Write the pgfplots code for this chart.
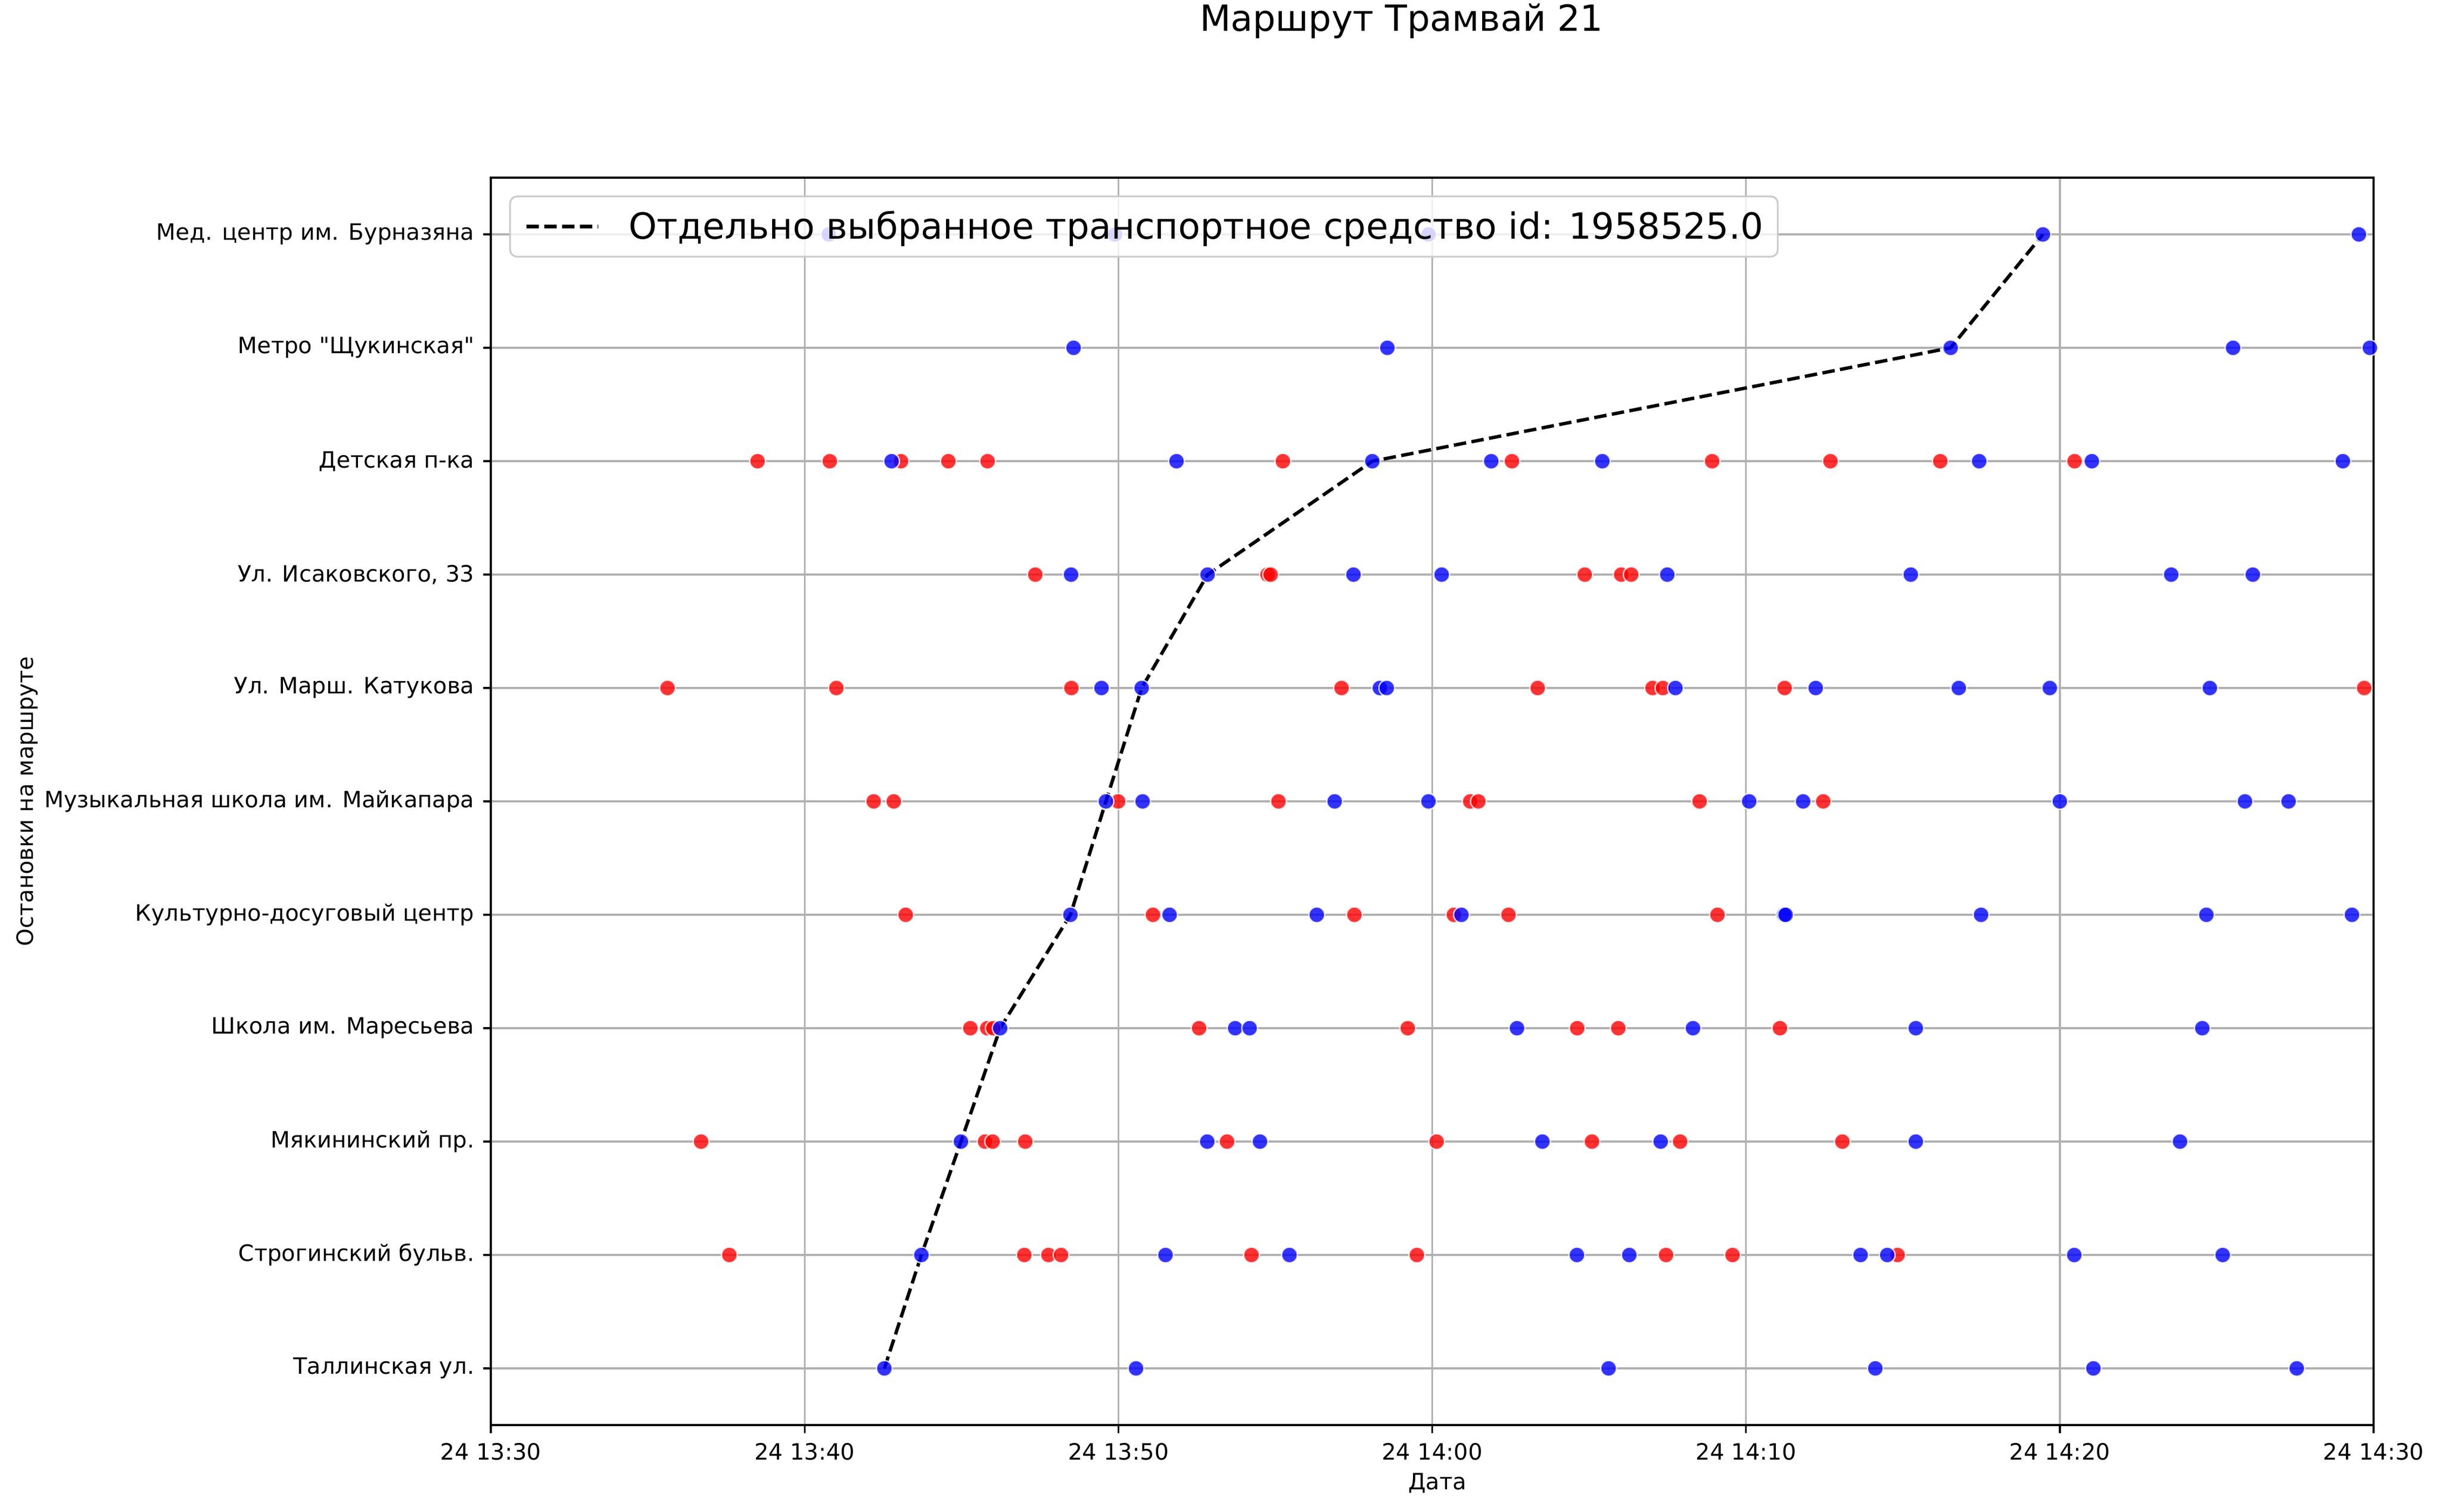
\documentclass[border=0pt]{standalone}
\usepackage{fontspec}
\setmainfont{DejaVu Sans}[Ligatures=TeXOff]
\usepackage{pgfplots}
\pgfplotsset{compat=1.18}
\begin{document}
\begin{tikzpicture}
\path[use as bounding box] (0,0) rectangle (1084.6pt,671.8pt);
\begin{axis}[
  at={(218.2pt,38.4pt)}, anchor=south west,
  scale only axis, width=836.9pt, height=554.4pt,
  xmin=0, xmax=60, ymin=-0.5, ymax=10.5,
  xtick={0,10,...,60},
  xticklabels={24 13:30,24 13:40,24 13:50,24 14:00,24 14:10,24 14:20,24 14:30},
  ytick={0,...,10},
  yticklabels={Таллинская ул.,Строгинский бульв.,Мякининский пр.,Школа им. Маресьева,Культурно-досуговый центр,Музыкальная школа им. Майкапара,Ул. Марш. Катукова,{Ул. Исаковского, 33},Детская п-ка,Метро "Щукинская",Мед. центр им. Бурназяна},
  xtick pos=lower, ytick pos=left,
  tick align=outside, major tick length=3.5pt,
  tick style={black, line width=0.8pt},
  axis line style={black, line width=0.8pt},
  grid=major, major grid style={draw=black!31, line width=0.8pt},
  ticklabel style={font=\fontsize{10}{12}\selectfont, inner sep=0pt},
  xticklabel shift=4.4pt, yticklabel shift=3.7pt,
  title={Маршрут Трамвай 21},
  title style={at={(axis description cs:0.4837,1.1069)}, anchor=base, font=\fontsize{16}{19}\selectfont, inner sep=0pt},
  xlabel={Дата},
  xlabel style={at={(axis description cs:0.5027,-0.0515)}, anchor=base, font=\fontsize{10}{12}\selectfont, inner sep=0pt},
  ylabel={Остановки на маршруте},
  ylabel style={at={(axis description cs:-0.2464,0.5)}, anchor=center, font=\fontsize{10}{12}\selectfont, inner sep=0pt},
  legend image code/.code={\draw[#1] (0pt,0pt) -- (32pt,0pt);},
  legend style={at={(0.00975,0.9857)}, anchor=north west, draw=black!20, line width=0.8pt,
    fill=white, fill opacity=0.8, text opacity=1, rounded corners=3pt,
    font=\fontsize{16}{19}\selectfont, inner xsep=6.4pt, inner ysep=6.4pt,
    nodes={inner sep=0pt}, column sep=12.8pt},
]
% red series
\addplot[only marks, forget plot, mark=*, mark size=3.5pt,
  mark options={fill=red, draw=white, line width=0.6pt, opacity=0.8}] coordinates {
(7.60,1) (17.00,1) (17.77,1) (18.17,1) (24.24,1) (29.51,1) (37.45,1) (39.57,1) (44.83,1)
(6.70,2) (15.75,2) (15.99,2) (17.03,2) (23.46,2) (30.14,2) (35.09,2) (37.90,2) (43.07,2)
(15.28,3) (15.82,3) (16.01,3) (22.57,3) (29.22,3) (34.62,3) (35.93,3) (41.08,3)
(13.22,4) (21.10,4) (27.52,4) (30.69,4) (32.43,4) (39.09,4)
(12.20,5) (12.84,5) (19.99,5) (25.10,5) (31.21,5) (31.47,5) (38.52,5) (42.46,5)
(5.63,6) (11.01,6) (18.50,6) (27.11,6) (33.36,6) (37.02,6) (37.35,6) (41.23,6) (59.70,6)
(17.35,7) (24.75,7) (24.85,7) (34.86,7) (36.02,7) (36.34,7)
(8.50,8) (10.80,8) (13.07,8) (14.58,8) (15.83,8) (25.24,8) (32.54,8) (38.92,8) (42.69,8) (46.19,8) (50.47,8)
};
% blue series
\addplot[only marks, forget plot, mark=*, mark size=3.5pt,
  mark options={fill=blue, draw=white, line width=0.6pt, opacity=0.8}] coordinates {
(12.54,0) (20.56,0) (35.62,0) (44.12,0) (51.07,0) (57.55,0)
(13.72,1) (21.50,1) (25.45,1) (34.61,1) (36.28,1) (43.65,1) (44.50,1) (50.46,1) (55.19,1)
(14.98,2) (22.83,2) (24.51,2) (33.51,2) (37.28,2) (45.41,2) (53.83,2)
(16.23,3) (23.72,3) (24.18,3) (32.70,3) (38.31,3) (45.41,3) (54.54,3)
(18.47,4) (21.63,4) (26.32,4) (30.93,4) (41.21,4) (41.26,4) (47.49,4) (54.67,4) (59.31,4)
(19.60,5) (20.77,5) (26.89,5) (29.88,5) (40.10,5) (41.82,5) (50.00,5) (55.90,5) (57.29,5)
(19.46,6) (20.74,6) (28.33,6) (28.55,6) (37.75,6) (42.22,6) (46.78,6) (49.68,6) (54.78,6)
(18.49,7) (22.84,7) (27.49,7) (30.30,7) (37.49,7) (45.25,7) (53.55,7) (56.15,7)
(12.77,8) (21.85,8) (28.09,8) (31.88,8) (35.42,8) (47.43,8) (51.02,8) (59.02,8)
(18.57,9) (28.57,9) (46.52,9) (55.52,9) (59.88,9)
(10.77,10) (19.89,10) (29.88,10) (49.46,10) (59.53,10)
};
% selected vehicle
\addplot[black, line width=1.5pt, dash pattern=on 5.55pt off 2.4pt, no marks] coordinates {
(12.54,0) (13.72,1) (14.98,2) (16.23,3) (18.47,4) (19.60,5) (20.74,6) (22.84,7) (28.09,8) (46.52,9) (49.46,10)
};
\addlegendentry{Отдельно выбранное транспортное средство id: 1958525.0}
\end{axis}
\end{tikzpicture}
\end{document}
